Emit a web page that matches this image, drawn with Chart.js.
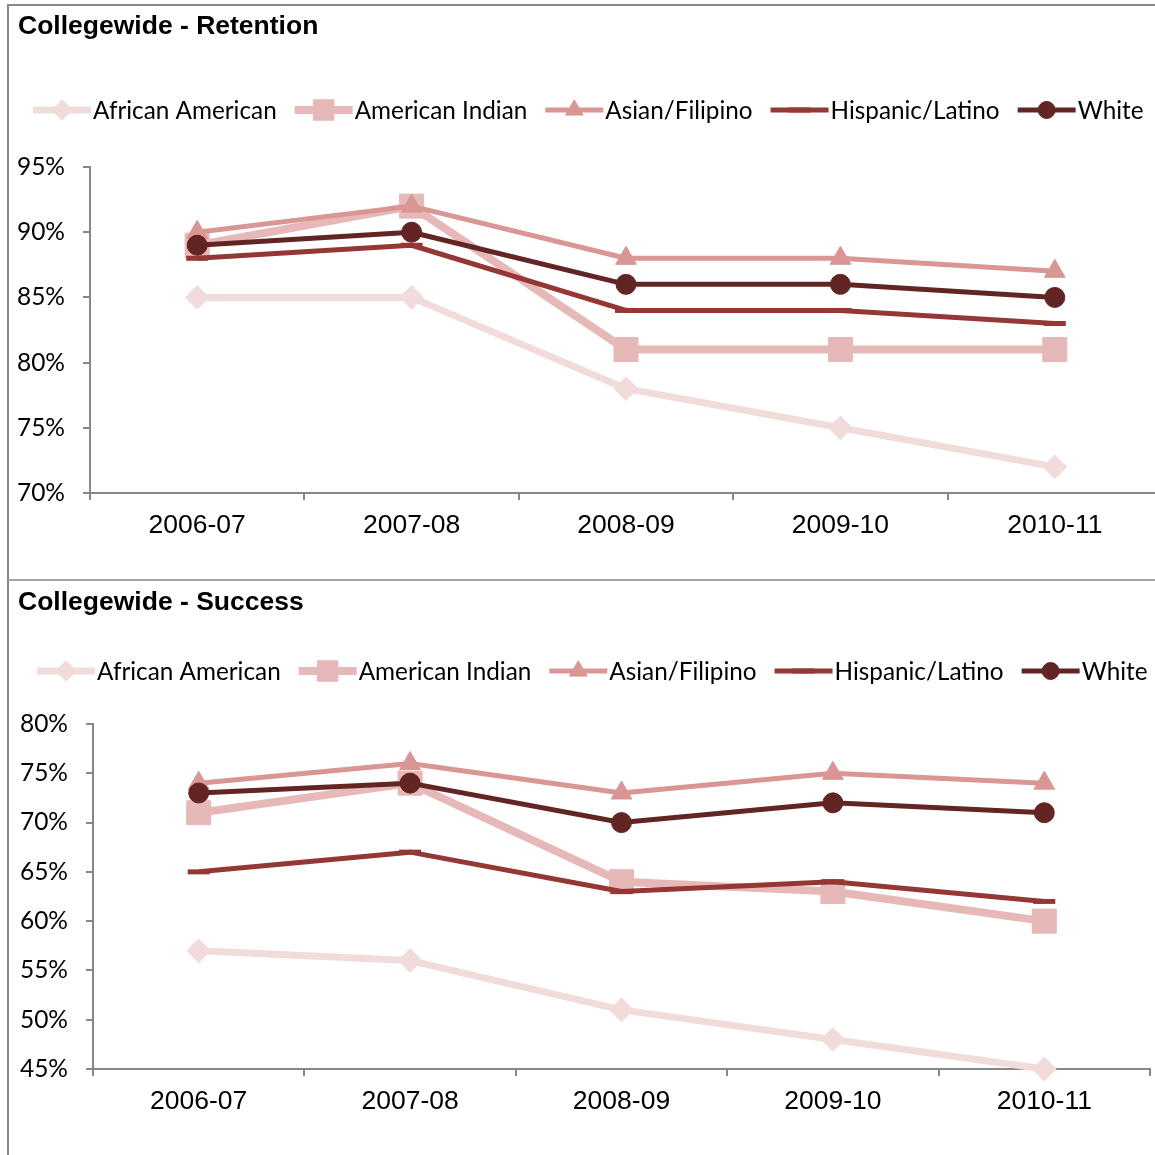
<!DOCTYPE html>
<html>
<head>
<meta charset="utf-8">
<script src="https://cdn.jsdelivr.net/npm/chart.js@4.4.1/dist/chart.umd.min.js"></script>
<style>
  html, body { margin: 0; padding: 0; background: #fff; overflow: hidden; width: 1155px; height: 1155px; }
  .frame { position: absolute; box-sizing: border-box; }
  #frameTop { left: 7px; top: 4px; width: 1180px; height: 576px; border-left: 2px solid #888; border-top: 2px solid #888; }
  #frameBottom { left: 7px; top: 579px; width: 1180px; height: 600px; border-left: 2px solid #888; border-top: 2px solid #a6a6a6; }
  canvas { position: absolute; left: 0; }
  #retentionChart { top: 0; }
  #successChart { top: 581px; }
</style>
</head>
<body>
<div class="frame" id="frameTop"></div>
<div class="frame" id="frameBottom"></div>
<canvas id="retentionChart" width="1180" height="578"></canvas>
<canvas id="successChart" width="1170" height="574"></canvas>
<script>
// years on the x axis
const years = ['2006-07', '2007-08', '2008-09', '2009-10', '2010-11'];
const groups = ['African American', 'American Indian', 'Asian/Filipino', 'Hispanic/Latino', 'White'];

// retention rates (%)
const retAfrican  = [85, 85, 78, 75, 72];
const retIndian   = [89, 92, 81, 81, 81];
const retAsian    = [90, 92, 88, 88, 87];
const retHispanic = [88, 89, 84, 84, 83];
const retWhite    = [89, 90, 86, 86, 85];

// success rates (%)
const sucAfrican  = [57, 56, 51, 48, 45];
const sucIndian   = [71, 74, 64, 63, 60];
const sucAsian    = [74, 76, 73, 75, 74];
const sucHispanic = [65, 67, 63, 64, 62];
const sucWhite    = [73, 74, 70, 72, 71];

// y axis ranges
const retTicks = [70, 75, 80, 85, 90, 95];
const sucTicks = [45, 50, 55, 60, 65, 70, 75, 80];

const axisGray = '#878787';
const colors = ['#F2DCDB', '#E6B9B8', '#D99694', '#953735', '#632523'];
const lineWidths = [7, 8, 5, 5, 5];
const styles = [
    { pointStyle: 'rectRot', pointRadius: 11, pointBorderWidth: 2 },
    { pointStyle: 'rect', pointRadius: 17, pointBorderWidth: 1 },
    { pointStyle: 'triangle', pointRadius: 12, pointBorderWidth: 1 },
    { pointStyle: 'line', pointRadius: 11, pointBorderWidth: 5 },
    { pointStyle: 'circle', pointRadius: 10, pointBorderWidth: 1 }
];

function makeDatasets(series) {
    return series.map(function (values, i) {
        return Object.assign({
            label: groups[i],
            data: values,
            borderColor: colors[i],
            backgroundColor: colors[i],
            pointBackgroundColor: colors[i],
            pointBorderColor: colors[i],
            borderWidth: lineWidths[i],
            borderJoinStyle: 'round',
            order: series.length - i,
            clip: false
        }, styles[i]);
    });
}

// title and a legend with line + marker, drawn on the canvas
const panelDeco = {
    id: 'panelDeco',
    afterDraw: function (chart, args, opts) {
        const ctx = chart.ctx;
        ctx.save();
        ctx.fillStyle = '#000';
        ctx.textBaseline = 'middle';
        ctx.textAlign = 'left';
        ctx.font = 'bold 26.5px "Liberation Sans", Arial, sans-serif';
        ctx.fillText(opts.title, 18, opts.titleY);

        ctx.font = '24.3px Lato, "Open Sans", sans-serif';
        let x = opts.legendX;
        const y = opts.legendY;
        chart.data.datasets.forEach(function (ds) {
            ctx.strokeStyle = ds.borderColor;
            ctx.fillStyle = ds.borderColor;
            ctx.lineWidth = ds.borderWidth;
            ctx.beginPath();
            ctx.moveTo(x, y);
            ctx.lineTo(x + 58, y);
            ctx.stroke();
            ctx.lineWidth = ds.pointBorderWidth;
            Chart.helpers.drawPoint(ctx, {
                pointStyle: ds.pointStyle,
                radius: ds.pointStyle === 'line' ? 11 : ds.pointRadius * 0.85,
                borderWidth: ds.pointBorderWidth,
                rotation: 0
            }, x + 29, y);
            ctx.fillStyle = '#000';
            ctx.fillText(ds.label, x + 60, y + 1);
            x += 60 + ctx.measureText(ds.label).width + 18;
        });
        ctx.restore();
    }
};

function makeChart(id, series, ticks, o) {
    const ctx = document.getElementById(id).getContext('2d');
    return new Chart(ctx, {
        type: 'line',
        data: { labels: years, datasets: makeDatasets(series) },
        plugins: [panelDeco],
        options: {
            responsive: false,
            animation: false,
            events: [],
            layout: { padding: { top: o.top, right: o.right, left: 0, bottom: 0 } },
            plugins: {
                legend: { display: false },
                tooltip: { enabled: false },
                panelDeco: { title: o.title, titleY: o.titleY, legendX: o.legendX, legendY: o.legendY }
            },
            scales: {
                x: {
                    offset: true,
                    grid: { offset: true, drawOnChartArea: false, tickLength: 7, color: axisGray, lineWidth: 2 },
                    border: { color: axisGray, width: 2 },
                    ticks: { color: '#000', padding: 10, font: { family: '"Liberation Sans", Arial', size: 26.5 } },
                    afterFit: function (scale) { scale.height = o.xHeight; }
                },
                y: {
                    min: ticks[0],
                    max: ticks[ticks.length - 1],
                    grid: { drawOnChartArea: false, tickLength: 7, color: axisGray, lineWidth: 2 },
                    border: { color: axisGray, width: 2 },
                    ticks: {
                        stepSize: ticks[1] - ticks[0],
                        color: '#000',
                        padding: 18,
                        font: { family: 'Lato, "Open Sans"', size: 24.5 },
                        callback: function (v) { return v + '%'; }
                    },
                    afterFit: function (scale) { scale.width = o.yWidth; }
                }
            }
        }
    });
}

makeChart('retentionChart', [retAfrican, retIndian, retAsian, retHispanic, retWhite], retTicks, {
    title: 'Collegewide - Retention', titleY: 27, legendX: 33, legendY: 110,
    top: 167, right: 18, xHeight: 85, yWidth: 90
});

makeChart('successChart', [sucAfrican, sucIndian, sucAsian, sucHispanic, sucWhite], sucTicks, {
    title: 'Collegewide - Success', titleY: 22, legendX: 37, legendY: 90,
    top: 143, right: 20, xHeight: 86, yWidth: 93
});
</script>
</body>
</html>
